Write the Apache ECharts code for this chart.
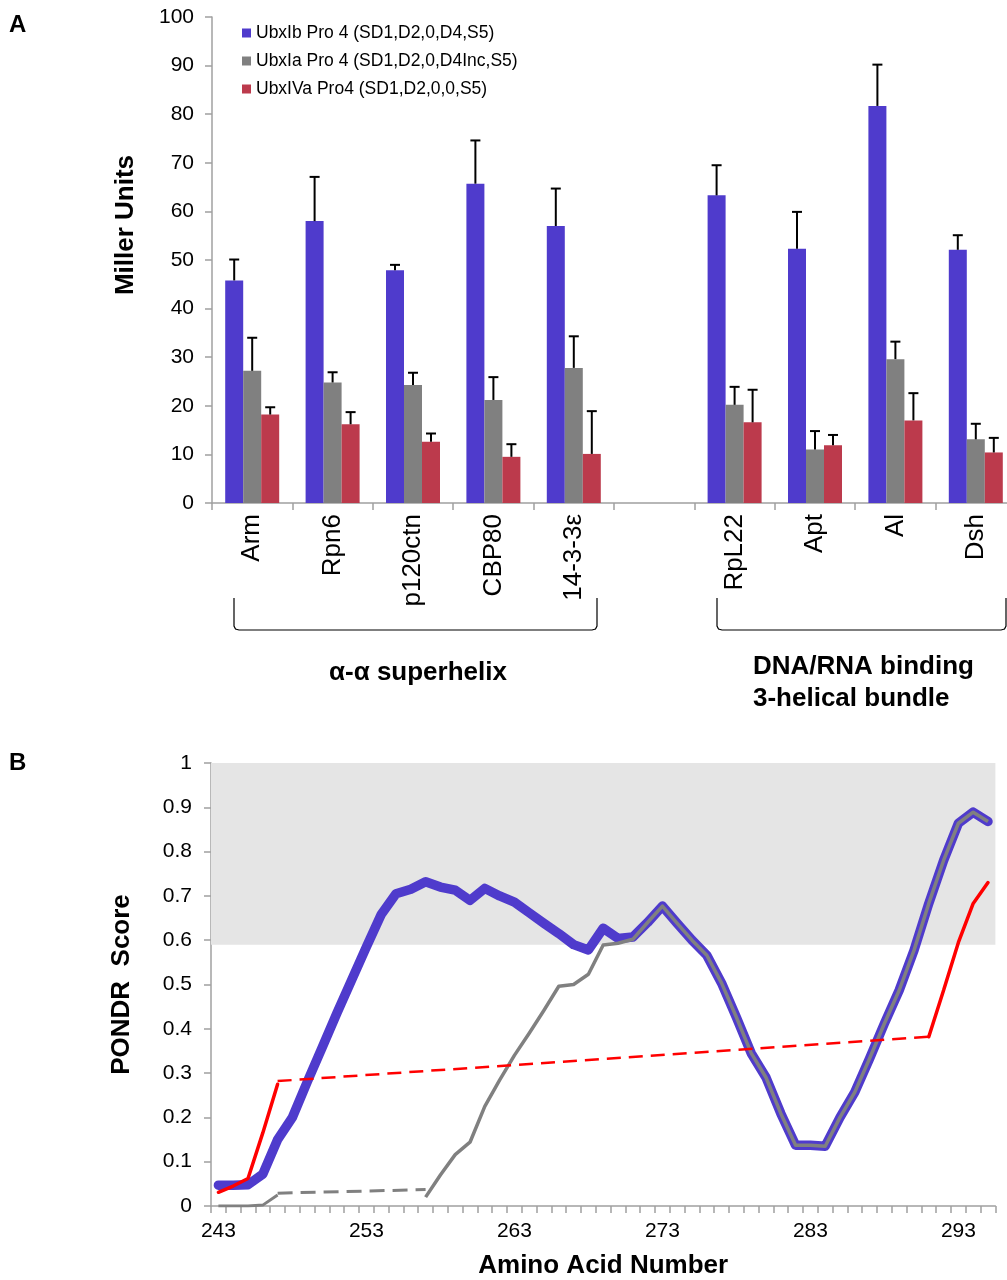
<!DOCTYPE html>
<html>
<head>
<meta charset="utf-8">
<script src="https://cdn.jsdelivr.net/npm/echarts@6.0.0/dist/echarts.min.js"></script>
<style>
  body { margin: 0; background: #fff; }
  #chart { width: 1007px; height: 1280px; }
</style>
</head>
<body>
<div id="chart"></div>
<script>
// panel A: beta-gal assay, Miller units
const categoriesA = ["Arm", "Rpn6", "p120ctn", "CBP80", "14-3-3ε", "", "RpL22", "Apt", "Al", "Dsh"];
const ubxIb = [45.8, 58.0, 47.9, 65.7, 57.0, null, 63.3, 52.3, 81.7, 52.1];
const ubxIbErr = [4.3, 9.1, 1.1, 8.9, 7.7, null, 6.2, 7.6, 8.5, 3.0];
const ubxIa = [27.2, 24.8, 24.3, 21.2, 27.8, null, 20.2, 11.0, 29.6, 13.1];
const ubxIaErr = [6.8, 2.1, 2.5, 4.7, 6.5, null, 3.7, 3.8, 3.6, 3.2];
const ubxIVa = [18.2, 16.2, 12.6, 9.5, 10.1, null, 16.6, 11.9, 17.0, 10.4];
const ubxIVaErr = [1.5, 2.5, 1.7, 2.6, 8.8, null, 6.7, 2.1, 5.6, 3.0];
const yTicksA = [0, 10, 20, 30, 40, 50, 60, 70, 80, 90, 100];

// panel B: PONDR score by residue
const residues = [243, 244, 245, 246, 247, 248, 249, 250, 251, 252, 253, 254, 255, 256, 257, 258, 259, 260,
  261, 262, 263, 264, 265, 266, 267, 268, 269, 270, 271, 272, 273, 274, 275, 276, 277, 278, 279, 280,
  281, 282, 283, 284, 285, 286, 287, 288, 289, 290, 291, 292, 293, 294, 295];
const pondrIb = [0.047, 0.047, 0.048, 0.072, 0.15, 0.2, 0.28, 0.357, 0.435, 0.51, 0.585, 0.658, 0.705, 0.715,
  0.732, 0.72, 0.713, 0.69, 0.717, 0.70, 0.686, 0.662, 0.638, 0.615, 0.59, 0.578, 0.627, 0.604, 0.607,
  0.64, 0.677, 0.638, 0.60, 0.566, 0.503, 0.426, 0.345, 0.29, 0.209, 0.137, 0.137, 0.135, 0.2, 0.257,
  0.333, 0.412, 0.487, 0.577, 0.683, 0.78, 0.864, 0.889, 0.868];
const pondrIaStart = [0, 0, 0, 0.002, 0.025];
const pondrIaGap = { 247: 0.029, 257: 0.037 };
const pondrIaFrom257 = [0.02, 0.07, 0.116, 0.144, 0.225, 0.284, 0.34, 0.39, 0.442, 0.496, 0.50, 0.523,
  0.589, 0.593, 0.602, 0.64, 0.677, 0.638, 0.60, 0.566, 0.503, 0.426, 0.345, 0.29, 0.209, 0.137, 0.137,
  0.135, 0.2, 0.257, 0.333, 0.412, 0.487, 0.577, 0.683, 0.78, 0.864, 0.889, 0.868];
const pondrIVaStart = [0.031, 0.045, 0.062, 0.165, 0.275];
const pondrIVaGap = { 247: 0.282, 291: 0.382 };
const pondrIVaFrom291 = [0.382, 0.487, 0.595, 0.683, 0.73];
const disorderBand = [0.59, 1];

const FONT = "Liberation Sans, Arial, sans-serif";
const AXIS_GRAY = "#a0a0a0";
const BLUE = "#4f3bcc";
const GRAY = "#808080";
const RED_BAR = "#bc3a4c";

// helpers to spread partial series over the residue axis
function placeAt(startRes, values) {
  return residues.map(r => {
    const i = r - startRes;
    return i >= 0 && i < values.length ? values[i] : null;
  });
}
function placeMap(map) {
  return residues.map(r => (map[r] !== undefined ? map[r] : null));
}

function errData(means, errs) {
  const out = [];
  means.forEach((m, i) => {
    if (m != null && errs[i] != null) out.push([i, m + errs[i], m]);
  });
  return out;
}

function errRender(offset) {
  return function (params, api) {
    const cat = api.value(0);
    const top = api.coord([cat, api.value(1)]);
    const base = api.coord([cat, api.value(2)]);
    const x = top[0] + offset;
    return {
      type: "group",
      children: [
        { type: "line", shape: { x1: x, y1: base[1], x2: x, y2: top[1] }, style: { stroke: "#000", lineWidth: 2 } },
        { type: "line", shape: { x1: x - 5, y1: top[1], x2: x + 5, y2: top[1] }, style: { stroke: "#000", lineWidth: 2 } }
      ]
    };
  };
}

// bracket under a group of categories
function bracket(x1, x2) {
  return {
    type: "polyline",
    shape: { points: [[x1, 598], [x1, 626], [x1 + 1.5, 629], [x1 + 5, 630], [x2 - 5, 630], [x2 - 1.5, 629], [x2, 626], [x2, 598]] },
    style: { stroke: "#000", lineWidth: 1.2, fill: null }
  };
}

const chart = echarts.init(document.getElementById("chart"), null, { renderer: "canvas" });

const axisLine = { show: true, lineStyle: { color: AXIS_GRAY, width: 1.5 } };
const axisTick = { show: true, length: 7, lineStyle: { color: AXIS_GRAY, width: 1.5 } };
const nameStyle = { fontFamily: FONT, fontSize: 26, fontWeight: "bold", color: "#000" };
const boldText = "bold 26px " + FONT;

const option = {
  backgroundColor: "#fff",
  animation: false,
  textStyle: { fontFamily: FONT },
  grid: [
    { left: 212, top: 17, width: 804, height: 486, outerBoundsMode: "none" },
    { left: 211, top: 763, width: 784.4, height: 443, outerBoundsMode: "none" }
  ],
  legend: {
    orient: "vertical",
    left: 237,
    top: 19,
    itemWidth: 9,
    itemHeight: 9,
    itemGap: 10,
    icon: "rect",
    data: ["UbxIb Pro 4 (SD1,D2,0,D4,S5)", "UbxIa Pro 4 (SD1,D2,0,D4Inc,S5)", "UbxIVa Pro4 (SD1,D2,0,0,S5)"],
    textStyle: { fontFamily: FONT, fontSize: 17.5, color: "#000" }
  },
  xAxis: [
    {
      gridIndex: 0,
      type: "category",
      data: categoriesA,
      axisLine: axisLine,
      axisTick: axisTick,
      axisLabel: { interval: 0, rotate: 90, margin: 11, fontFamily: FONT, fontSize: 26, color: "#000" },
      splitLine: { show: false }
    },
    {
      gridIndex: 1,
      type: "category",
      data: residues,
      boundaryGap: true,
      axisLine: axisLine,
      axisTick: { show: true, interval: 0, length: 7, lineStyle: { color: AXIS_GRAY, width: 1.5 } },
      axisLabel: { interval: 9, margin: 15, fontFamily: FONT, fontSize: 21, color: "#000" },
      splitLine: { show: false },
      name: "Amino Acid Number",
      nameLocation: "middle",
      nameGap: 47,
      nameTextStyle: nameStyle
    }
  ],
  yAxis: [
    {
      gridIndex: 0,
      type: "value",
      min: yTicksA[0],
      max: yTicksA[yTicksA.length - 1],
      interval: 10,
      axisLine: axisLine,
      axisTick: axisTick,
      axisLabel: { margin: 18, fontFamily: FONT, fontSize: 21, color: "#000" },
      splitLine: { show: false },
      name: "Miller Units",
      nameLocation: "middle",
      nameGap: 73,
      nameTextStyle: Object.assign({}, nameStyle, { padding: [0, 0, 0, 70] })
    },
    {
      gridIndex: 1,
      type: "value",
      min: 0,
      max: 1,
      interval: 0.1,
      axisLine: axisLine,
      axisTick: axisTick,
      axisLabel: { margin: 19, fontFamily: FONT, fontSize: 21, color: "#000" },
      splitLine: { show: false },
      name: "PONDR  Score",
      nameLocation: "middle",
      nameGap: 76,
      nameTextStyle: nameStyle
    }
  ],
  series: [
    { name: "UbxIb Pro 4 (SD1,D2,0,D4,S5)", type: "bar", xAxisIndex: 0, yAxisIndex: 0, data: ubxIb, barWidth: 18, barGap: "0%", itemStyle: { color: BLUE } },
    { name: "UbxIa Pro 4 (SD1,D2,0,D4Inc,S5)", type: "bar", xAxisIndex: 0, yAxisIndex: 0, data: ubxIa, barWidth: 18, barGap: "0%", itemStyle: { color: GRAY } },
    { name: "UbxIVa Pro4 (SD1,D2,0,0,S5)", type: "bar", xAxisIndex: 0, yAxisIndex: 0, data: ubxIVa, barWidth: 18, barGap: "0%", itemStyle: { color: RED_BAR } },
    { type: "custom", xAxisIndex: 0, yAxisIndex: 0, data: errData(ubxIb, ubxIbErr), renderItem: errRender(-18), z: 5, encode: { x: 0, y: 1 } },
    { type: "custom", xAxisIndex: 0, yAxisIndex: 0, data: errData(ubxIa, ubxIaErr), renderItem: errRender(0), z: 5, encode: { x: 0, y: 1 } },
    { type: "custom", xAxisIndex: 0, yAxisIndex: 0, data: errData(ubxIVa, ubxIVaErr), renderItem: errRender(18), z: 5, encode: { x: 0, y: 1 } },

    {
      type: "line", xAxisIndex: 1, yAxisIndex: 1, data: pondrIb, showSymbol: false, z: 3,
      lineStyle: { color: BLUE, width: 9.5, cap: "round", join: "round" },
      markArea: {
        silent: true,
        itemStyle: { color: "#e5e5e5" },
        data: [[{ yAxis: disorderBand[0] }, { yAxis: disorderBand[1] }]]
      }
    },
    { type: "line", xAxisIndex: 1, yAxisIndex: 1, data: placeAt(243, pondrIaStart), showSymbol: false, z: 4, lineStyle: { color: GRAY, width: 3 } },
    { type: "line", xAxisIndex: 1, yAxisIndex: 1, data: placeMap(pondrIaGap), connectNulls: true, showSymbol: false, z: 4, lineStyle: { color: GRAY, width: 3, type: [15, 8] } },
    { type: "line", xAxisIndex: 1, yAxisIndex: 1, data: placeAt(257, pondrIaFrom257), showSymbol: false, z: 4, lineStyle: { color: GRAY, width: 3.5, join: "round" } },
    { type: "line", xAxisIndex: 1, yAxisIndex: 1, data: placeAt(243, pondrIVaStart), showSymbol: false, z: 5, lineStyle: { color: "#ff0000", width: 3.5, cap: "round" } },
    { type: "line", xAxisIndex: 1, yAxisIndex: 1, data: placeMap(pondrIVaGap), connectNulls: true, showSymbol: false, z: 5, lineStyle: { color: "#ff0000", width: 2.5, type: [14, 8] } },
    { type: "line", xAxisIndex: 1, yAxisIndex: 1, data: placeAt(291, pondrIVaFrom291), showSymbol: false, z: 5, lineStyle: { color: "#ff0000", width: 3.5, cap: "round" } }
  ],
  graphic: [
    { type: "text", x: 9, y: 13, style: { text: "A", font: "bold 24px " + FONT, fill: "#000" } },
    { type: "text", x: 9, y: 751, style: { text: "B", font: "bold 24px " + FONT, fill: "#000" } },
    bracket(234, 597),
    bracket(717, 1006),
    { type: "text", x: 418, y: 673, style: { text: "α-α superhelix", font: boldText, fill: "#000", align: "center", verticalAlign: "middle" } },
    { type: "text", x: 753, y: 667, style: { text: "DNA/RNA binding", font: boldText, fill: "#000", align: "left", verticalAlign: "middle" } },
    { type: "text", x: 753, y: 699, style: { text: "3-helical bundle", font: boldText, fill: "#000", align: "left", verticalAlign: "middle" } }
  ]
};

chart.setOption(option);
</script>
</body>
</html>
